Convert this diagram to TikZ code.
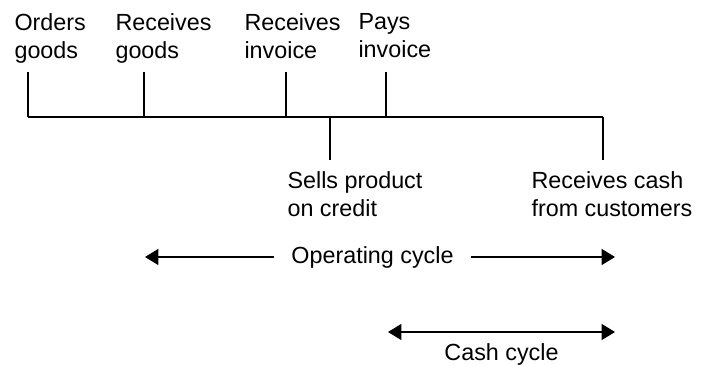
\documentclass[tikz,border=0pt]{standalone}
\usepackage{fontspec}
\setmainfont{Liberation Sans}
\usetikzlibrary{arrows.meta}

\begin{document}
\begin{tikzpicture}[
        x=0.75pt, y=0.75pt,
        line width=0.8pt,
        >={Triangle[length=10pt, width=12pt]},
        every node/.style={inner sep=0pt, font=\fontsize{17.5}{21}\selectfont},
        event/.style={anchor=north west, align=left},
        cyclelabel/.style={inner xsep=12.75pt}
        ]
        \useasboundingbox (0,0) rectangle (702,365);

        % time line
        \coordinate (tstart) at (28,248);
        \coordinate (tend) at (603,248);
        \draw (tstart) -- (tend);

        % events above the line
        \node [event] (orders) at (14,352) {Orders\\goods};
        \node [event] (recgoods) at (115,352) {Receives\\goods};
        \node [event] (recinv) at (244,352) {Receives\\invoice};
        \node [event] (payinv) at (358,352) {Pays\\invoice};
        \coordinate (torders) at (28,293);
        \coordinate (trecgoods) at (144,293);
        \coordinate (trecinv) at (286,293);
        \coordinate (tpayinv) at (386,293);
        \foreach \t in {torders, trecgoods, trecinv, tpayinv}
            \draw (\t) -- (\t |- tstart);

        % events below the line
        \node [event] (sells) at (287,194) {Sells product\\on credit};
        \node [event] (reccash) at (531,194) {Receives cash\\from customers};
        \coordinate (tsells) at (330,205);
        \coordinate (treccash) at (603,205);
        \foreach \t in {tsells, treccash}
            \draw (\t) -- (\t |- tstart);

        % cycles
        \node [cyclelabel] (operating) at (372.5,108) {Operating cycle};
        \coordinate (opstart) at (145,108);
        \coordinate (opend) at (615,108);
        \draw [->] (operating.west) -- (opstart);
        \draw [->] (operating.east) -- (opend);

        \coordinate (cashstart) at (388,33);
        \coordinate (cashend) at (615,33);
        \draw [<->] (cashstart) -- (cashend)
            node [midway, below=8pt] (cash) {Cash cycle};
\end{tikzpicture}
\end{document}
